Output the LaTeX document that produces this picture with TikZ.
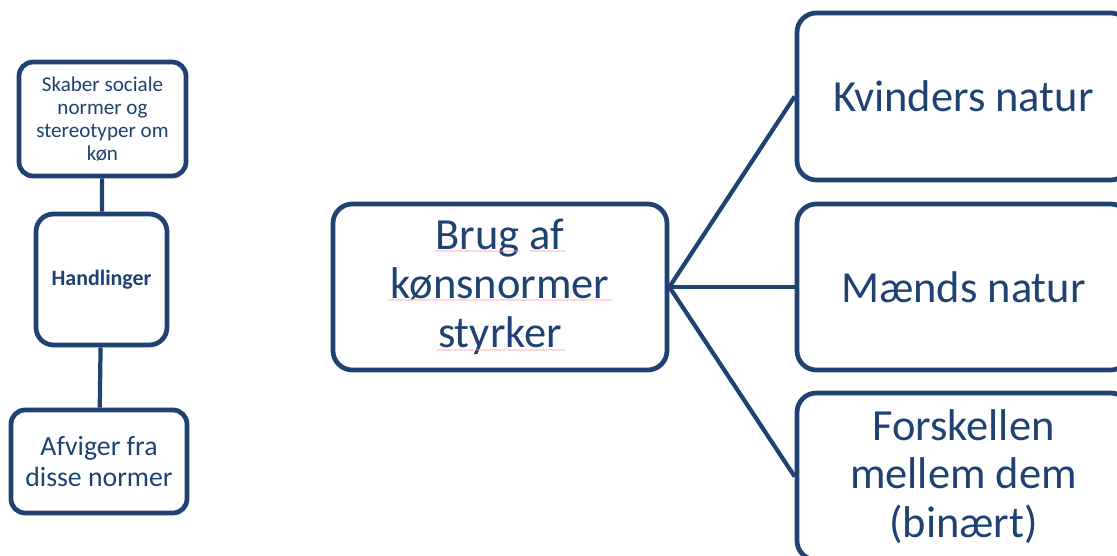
\documentclass[tikz,border=0pt]{standalone}
\usepackage{fontspec}
\setmainfont{Carlito}
\usepackage{tikz}
\usetikzlibrary{calc}
\usetikzlibrary{decorations.pathmorphing,positioning}
\usepackage{xcolor}
\definecolor{navy}{RGB}{31,66,115}
\definecolor{squiggle}{RGB}{250,160,160}

\begin{document}
\begin{tikzpicture}[
        box/.style={draw=navy, line width=2.7pt, fill=white, rounded corners=8pt,
            align=center, text=navy, inner sep=2pt},
        bigbox/.style={box, rounded corners=11pt, font=\fontsize{25.3}{27.8}\selectfont},
        link/.style={draw=navy, line width=2.4pt},
        spell/.style={draw=squiggle, line width=0.4pt,
            decorate, decoration={snake, amplitude=0.15pt, segment length=2pt}}
    ]
        \useasboundingbox (0, 0) rectangle (22.34, -11.12);
        \clip (0, 0) rectangle (22.34, -11.12);

        % Left column
        \node[box, minimum width=3.34cm, minimum height=2.28cm,
            font=\fontsize{12}{13}\selectfont] (skaber) at (2.05, -2.38)
            {Skaber sociale\\normer og\\stereotyper om\\køn};
        \node[box, rounded corners=10pt, minimum width=2.62cm, minimum height=2.62cm,
            font=\fontsize{12.5}{13}\selectfont\bfseries] (handl) at (2.03, -5.59) {Handlinger};
        \node[box, minimum width=3.52cm, minimum height=2.06cm,
            font=\fontsize{15.8}{18}\selectfont] (afviger) at (1.98, -9.23)
            {Afviger fra\\disse normer};

        \draw[link] (skaber) -- (handl);
        \draw[link] (handl) -- (afviger);

        % Middle box
        \node[bigbox, minimum width=6.68cm, minimum height=3.32cm] (brug) at (10.0, -5.74)
            {Brug af\\kønsnormer\\styrker};

        % Spelling marks
        \draw[spell] (8.70, -5.02) -- (10.40, -5.02);
        \draw[spell] (10.60, -5.02) -- (11.32, -5.02);
        \draw[spell] (7.76, -6.00) -- (12.24, -6.00);
        \draw[spell] (8.74, -7.00) -- (11.30, -7.00);

        % Right boxes
        \node[bigbox, minimum width=6.66cm, minimum height=3.34cm] (kvinder) at (19.27, -1.93)
            {Kvinders natur};
        \node[bigbox, minimum width=6.66cm, minimum height=3.32cm] (maend) at (19.27, -5.74)
            {Mænds natur};
        \node[bigbox, minimum width=6.66cm, minimum height=3.34cm] (forskel) at (19.27, -9.53)
            {Forskellen\\mellem dem\\(binært)};

        \draw[link] (brug.east) -- (kvinder.west);
        \draw[link] (brug.east) -- (maend.west);
        \draw[link] (brug.east) -- (forskel.west);

    \end{tikzpicture}
\end{document}
